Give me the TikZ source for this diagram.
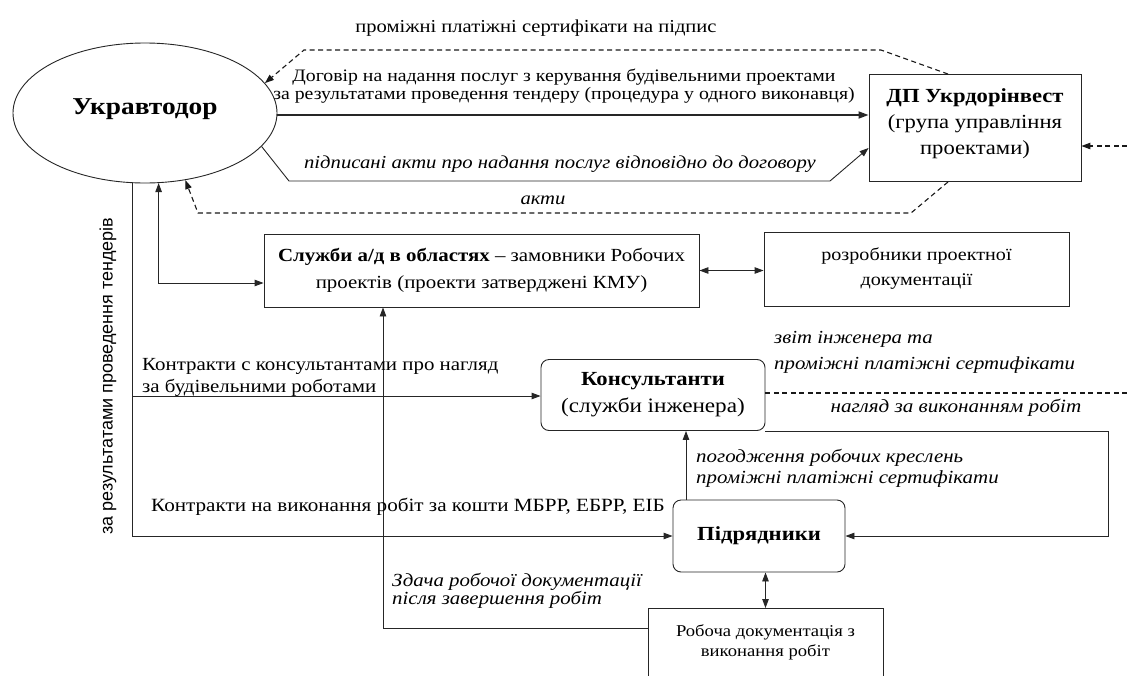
\documentclass[tikz,border=0pt]{standalone}
\usepackage{fontspec}
\setmainfont{Liberation Serif}[FakeStretch=1.13]
\newfontfamily\sansf{Liberation Sans}
\usetikzlibrary{arrows.meta,shapes.geometric}
\tikzset{
  ln/.style={line width=0.9pt, draw=black!85},
  arr/.style={ln, -{Triangle[length=9pt,width=6.5pt]}},
  arrtwo/.style={ln, {Triangle[length=9pt,width=6.5pt]}-{Triangle[length=9pt,width=6.5pt]}},
  dsh/.style={ln, line width=1.1pt, draw=black!90, dash pattern=on 5pt off 3.5pt},
  dsharr/.style={dsh, -{Triangle[length=9pt,width=6.5pt]}},
  boxs/.style={draw=black!85, line width=0.9pt, inner sep=0pt, align=center},
  rbox/.style={boxs, rounded corners=8pt},
  lbl/.style={inner sep=0pt, align=center},
  ilbl/.style={inner sep=0pt, align=left},
}
\begin{document}
\begin{tikzpicture}[x=1pt,y=-1pt]
\fill[white] (0,0) rectangle (1127,675);
\useasboundingbox (0,0) rectangle (1127,675);

% main nodes
\node[ellipse, draw=black!85, line width=0.9pt, minimum width=264pt, minimum height=140pt, inner sep=0pt] (uad) at (145,113) {};
\node[inner sep=0pt, font=\fontsize{24.2}{26}\selectfont\bfseries] (uadt) at (145,109) {Укравтодор};

\node[boxs, minimum width=212pt, minimum height=107pt, text depth=12.3pt, font=\fontsize{20}{26}\selectfont] (dp) at (975,128)
  {\textbf{ДП Укрдорінвест}\\(група управління\\проектами)};

\node[boxs, minimum width=435pt, minimum height=73pt, font=\fontsize{18.5}{27}\selectfont] (sl) at (481.5,270.5)
  {\textbf{Служби а/д в областях} – замовники Робочих\\проектів (проекти затверджені КМУ)};

\node[boxs, minimum width=305pt, minimum height=74pt, font=\fontsize{17.8}{25}\selectfont] (roz) at (916.5,269)
  {розробники проектної\\документації};

\node[rbox, minimum width=224pt, minimum height=71pt, font=\fontsize{20.5}{27}\selectfont] (kons) at (653,395)
  {{\fontsize{20}{27}\selectfont\bfseries Консультанти}\\(служби інженера)};

\node[rbox, minimum width=172pt, minimum height=72pt, font=\fontsize{20}{22}\selectfont\bfseries] (pid) at (759,536)
  {Підрядники};

\node[boxs, anchor=north, minimum width=235pt, inner ysep=16pt, text depth=18pt, font=\fontsize{16.5}{20}\selectfont] (rob) at (765.5,608)
  {Робоча документація з\\виконання робіт};

% free ends
\coordinate (rin) at (1127,146);
\coordinate (rout) at (1127,393);
\coordinate (j1) at (132,396);
\coordinate (rc) at (1108,480);

% connectors
\draw[dsharr] ([xshift=-27pt]dp.north) -- (881,50) -- (304,50) -- (uad.14);
\draw[ln, line width=1.7pt, -{Triangle[length=10pt,width=7pt]}] ([yshift=-2pt]uad.east) -- ([yshift=-2pt]uad.east -| dp.west);
\draw[arr] (uad.-16) -- (289,181) -- (830,181) -- ([yshift=-20pt]dp.west);
\draw[dsharr] ([xshift=-27pt]dp.south) -- (911,213) -- (198,213) -- (uad.-59);
\draw[dsharr] (rin) -- (rin -| dp.east);
\draw[arr] (uad.-100.6) |- (pid.west);
\draw[arrtwo] ([yshift=-12.5pt]sl.west) -| (uad.-79.4);
\draw[arrtwo] (sl.east) -- (sl.east -| roz.west);
\draw[arr] ([yshift=-20pt]rob.north west) -| ([xshift=-98.5pt]sl.south);
\draw[arr] (j1) -- (j1 -| kons.west);
\draw[dsh] (kons.east |- rout) -- (rout);
\draw[arr] (kons.south east) -| (rc) |- (pid.east);
\draw[arr] ([xshift=-73pt]pid.north) -- ([xshift=-73pt]pid.north |- kons.south);
\draw[arrtwo] (rob.north |- pid.south) -- (rob.north);

% labels
\node[lbl, font=\fontsize{18.2}{19}\selectfont] (t1) at (536,28) {проміжні платіжні сертифікати на підпис};
\node[lbl, font=\fontsize{17.5}{18.5}\selectfont] (t2) at (564,86) {Договір на надання послуг з керування будівельними проектами\\за результатами проведення тендеру (процедура у одного виконавця)};
\node[ilbl, font=\fontsize{18.3}{19}\selectfont\itshape] (t3) at (560,164) {підписані акти про надання послуг відповідно до договору};
\node[ilbl, font=\fontsize{18.3}{19}\selectfont\itshape] (t4) at (543,200) {акти};
\node[lbl, anchor=west, align=left, font=\fontsize{18.5}{22}\selectfont] (t5) at (142,377) {Контракти с консультантами про нагляд\\за будівельними роботами};
\node[ilbl, anchor=west, font=\fontsize{18.4}{26}\selectfont\itshape] (t6) at (774,352) {звіт інженера та\\проміжні платіжні сертифікати};
\node[ilbl, font=\fontsize{18.7}{19}\selectfont\itshape] (t7) at (956,408) {нагляд за виконанням робіт};
\node[ilbl, anchor=west, font=\fontsize{18.5}{21}\selectfont\itshape] (t8) at (696,468) {погодження робочих креслень\\проміжні платіжні сертифікати};
\node[lbl, font=\fontsize{18.7}{19}\selectfont] (t9) at (408,507) {Контракти на виконання робіт за кошти МБРР, ЕБРР, ЕІБ};
\node[ilbl, anchor=west, font=\fontsize{18.5}{18.5}\selectfont\itshape] (t10) at (392,591) {Здача робочої документації\\після завершення робіт};
\node[inner sep=0pt, rotate=90, font=\fontsize{18}{20}\sansf] (t11) at (108,376) {за результатами проведення тендерів};
\end{tikzpicture}
\end{document}
